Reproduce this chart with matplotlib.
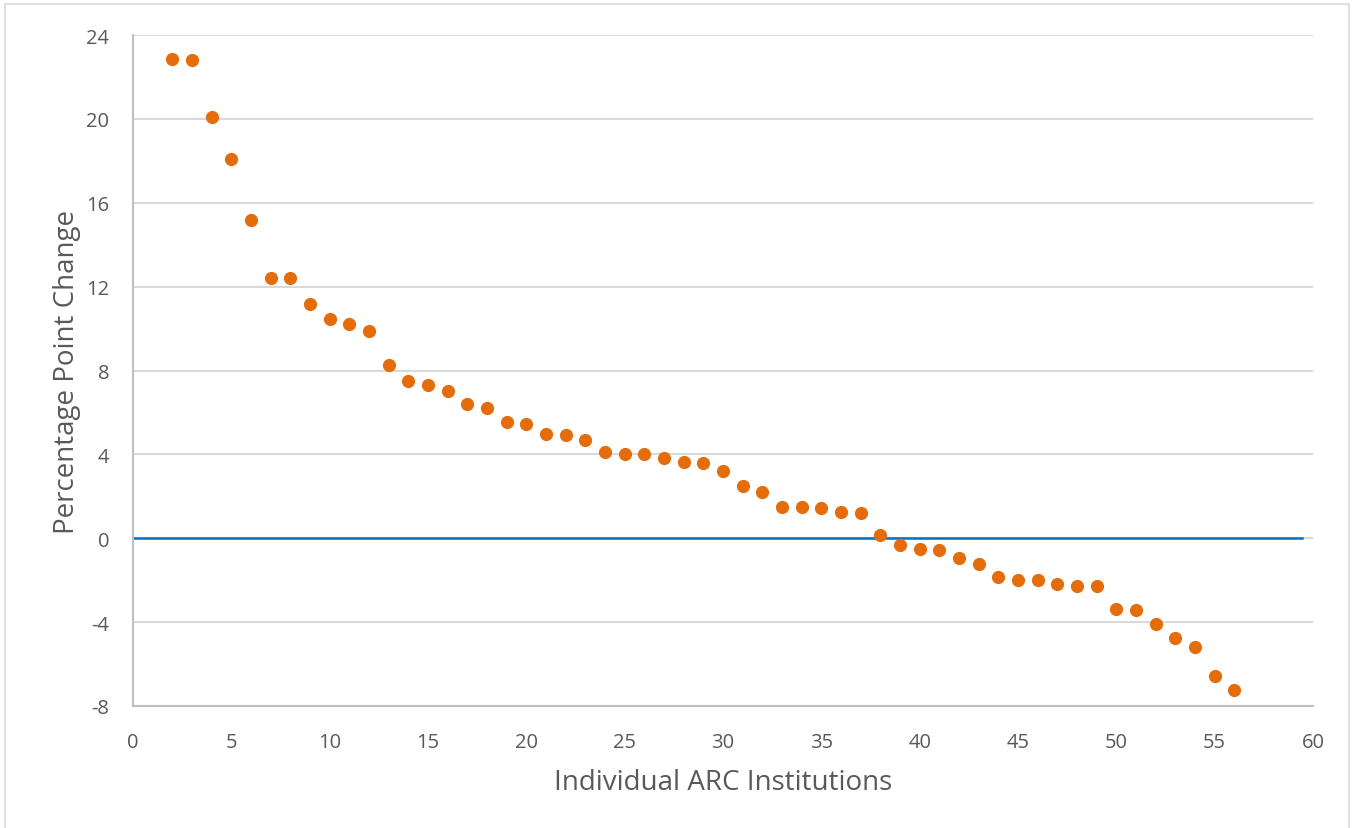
import matplotlib.pyplot as plt
from matplotlib.patches import Rectangle

institution = list(range(2, 57))
pp_change = [22.85, 22.8, 20.1, 18.08, 15.16, 12.42, 12.42, 11.17, 10.44, 10.2,
             9.9, 8.25, 7.52, 7.33, 7.03, 6.4, 6.23, 5.54, 5.43, 4.99,
             4.92, 4.68, 4.13, 4.03, 4.03, 3.82, 3.65, 3.6, 3.23, 2.49,
             2.19, 1.5, 1.5, 1.44, 1.26, 1.22, 0.17, -0.34, -0.5, -0.57,
             -0.93, -1.25, -1.84, -1.97, -1.97, -2.16, -2.29, -2.29, -3.37, -3.43,
             -4.11, -4.78, -5.21, -6.55, -7.23]

zero_x = [0, 59.45]
zero_y = [0, 0]

xticks = list(range(0, 61, 5))
yticks = list(range(-8, 25, 4))

plt.rcParams['font.family'] = ['Open Sans', 'DejaVu Sans']
plt.rcParams['axes.unicode_minus'] = False

fig = plt.figure(figsize=(13.54, 8.29), dpi=100)
W, H = 1354, 829
ax = fig.add_axes([133 / W, 1 - 707 / H, (1313 - 133) / W, (707 - 36) / H])

# outer chart border
fig.patches.append(Rectangle((5 / W, -0.01), (1349 - 5) / W, 1 - 5 / H + 0.01,
                             transform=fig.transFigure, fill=False,
                             edgecolor='#d9d9d9', linewidth=1.2))

ax.set_xlim(0, 60)
ax.set_ylim(-8, 24)
ax.set_xticks(xticks)
ax.set_yticks(yticks)
ax.grid(axis='y', color='#d9d9d9', linewidth=1.5)
ax.set_axisbelow(True)

ax.plot(zero_x, zero_y, color='#0070C0', linewidth=1.8, zorder=2)
ax.plot(institution, pp_change, linestyle='none', marker='o', markersize=9.5,
        color='#E46C0A', markeredgewidth=0, zorder=3)

for s in ['top', 'right']:
    ax.spines[s].set_visible(False)
for s in ['left', 'bottom']:
    ax.spines[s].set_color('#bfbfbf')
    ax.spines[s].set_linewidth(1.5)

ax.tick_params(length=0, colors='#595959', labelsize=14.5)
ax.tick_params(axis='x', pad=19)
ax.tick_params(axis='y', pad=17)

ax.set_xlabel('Individual ARC Institutions', fontsize=20, color='#595959', labelpad=11)
ax.set_ylabel('Percentage Point Change', fontsize=20, color='#595959', labelpad=4)

fig.savefig('out.png', dpi=100)
